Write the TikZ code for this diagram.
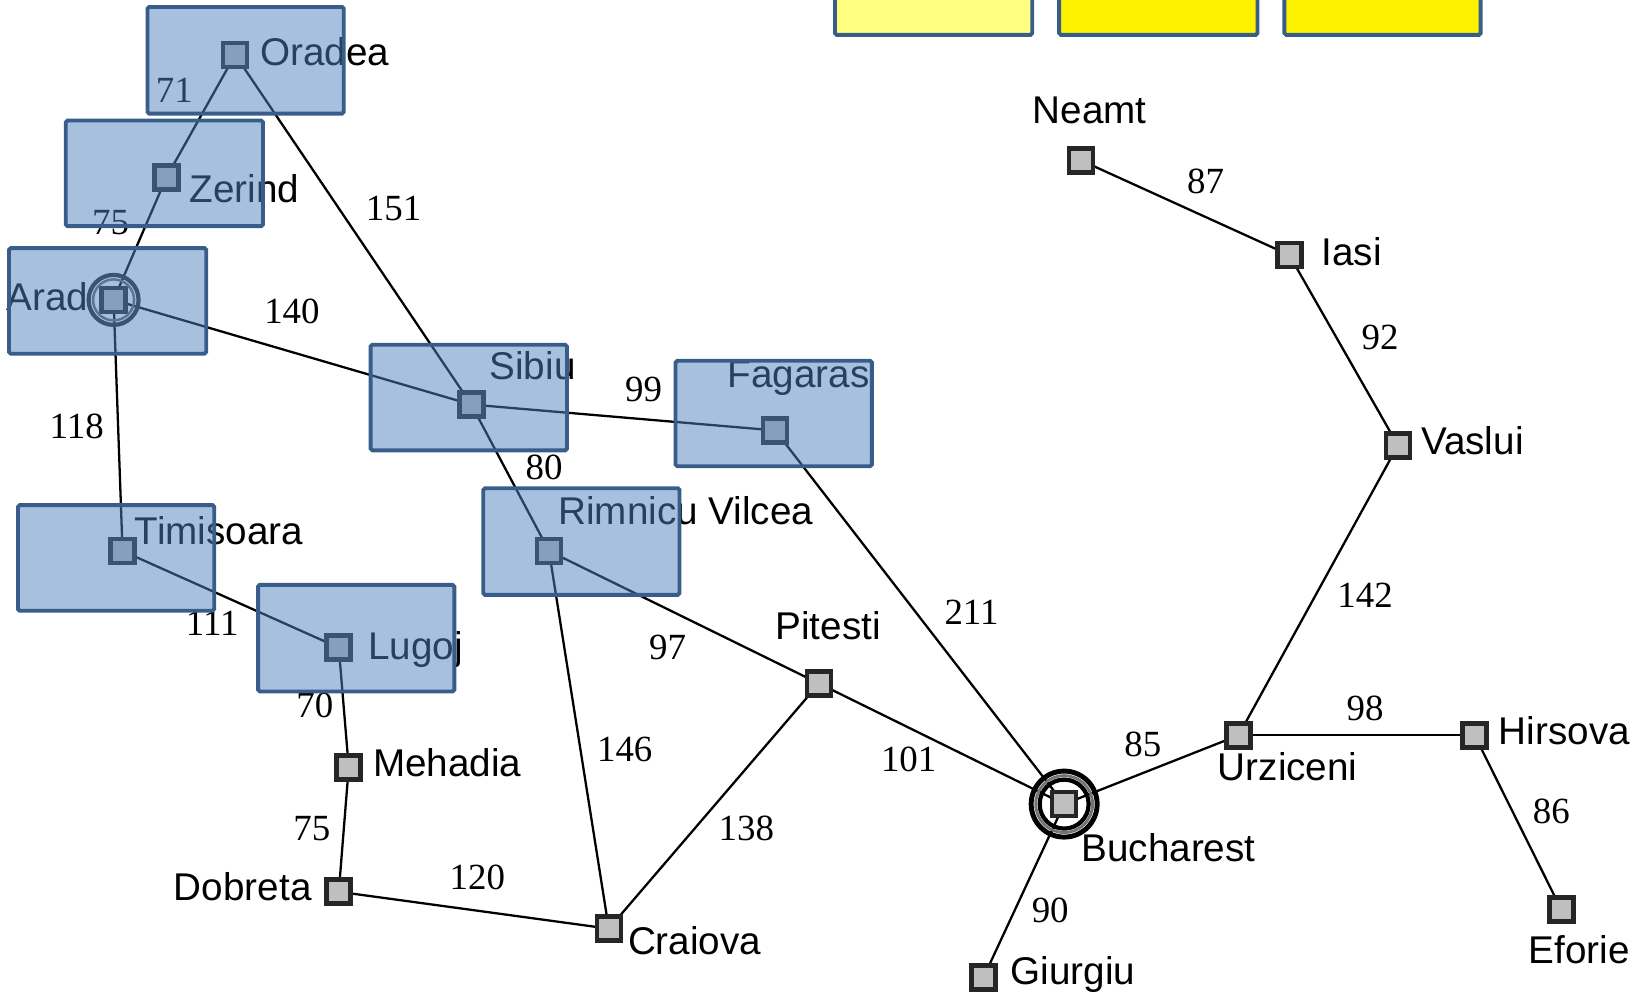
\documentclass[tikz,border=0pt]{standalone}
\usepackage{fontspec}
\setmainfont{Liberation Sans}
\newfontfamily\numfont{Liberation Serif}
\usetikzlibrary{backgrounds}
\definecolor{boxfill}{HTML}{4F81BD}
\definecolor{boxline}{HTML}{385D8A}
\definecolor{cityfill}{HTML}{BFBFBF}
\definecolor{cityline}{HTML}{262626}
\definecolor{paleyellow}{HTML}{FFFF80}
\begin{document}
\begin{tikzpicture}[x=0.01993cm,y=-0.01993cm,
	city/.style={draw=cityline,fill=cityfill,line width=2.6pt,minimum size=0.48cm,inner sep=0pt},
	town/.style={font=\fontsize{22}{26}\selectfont,inner sep=0pt},
	km/.style={font=\numfont\fontsize{21}{25}\selectfont,inner sep=0pt},
	road/.style={line width=1.3pt},
	expanded/.style={draw=boxline,fill=boxfill,fill opacity=0.5,line width=2.2pt,rounded corners=1pt},
	queue/.style={draw=boxline,line width=2.2pt,rounded corners=1pt}]
	\useasboundingbox (0,0) rectangle (32.88cm,-19.86cm);
	%cities
	\node[city] (Or) at (236,55) {};\node[city] (Ze) at (167,178) {};\node[city] (Ar) at (114,301) {};
	\node[city] (Si) at (473,406) {};\node[city] (Fa) at (778,432) {};\node[city] (Ti) at (123,553) {};
	\node[city] (Ri) at (551,553) {};\node[city] (Lu) at (340,650) {};\node[city] (Me) at (350,770) {};
	\node[city] (Do) at (340,895) {};\node[city] (Cr) at (611,932) {};\node[city] (Pi) at (822,686) {};
	\node[city] (Bu) at (1068,807) {};\node[city] (Gi) at (987,981) {};\node[city] (Ur) at (1243,738) {};
	\node[city] (Hi) at (1480,738) {};\node[city] (Ef) at (1567,913) {};\node[city] (Va) at (1403,447) {};
	\node[city] (Ia) at (1294,256) {};\node[city] (Ne) at (1085,161) {};
	%roads
	\begin{scope}[on background layer]
		\draw[road] (Or.center)--(Ze.center);
		\draw[road] (Ze.center)--(Ar.center);
		\draw[road] (Or.center)--(Si.center);
		\draw[road] (Ar.center)--(Si.center);
		\draw[road] (Ar.center)--(Ti.center);
		\draw[road] (Si.center)--(Fa.center);
		\draw[road] (Si.center)--(Ri.center);
		\draw[road] (Ti.center)--(Lu.center);
		\draw[road] (Lu.center)--(Me.center);
		\draw[road] (Me.center)--(Do.center);
		\draw[road] (Do.center)--(Cr.center);
		\draw[road] (Ri.center)--(Cr.center);
		\draw[road] (Ri.center)--(Pi.center);
		\draw[road] (Cr.center)--(Pi.center);
		\draw[road] (Pi.center)--(Bu.center);
		\draw[road] (Fa.center)--(Bu.center);
		\draw[road] (Bu.center)--(Ur.center);
		\draw[road] (Bu.center)--(Gi.center);
		\draw[road] (Ur.center)--(Hi.center);
		\draw[road] (Hi.center)--(Ef.center);
		\draw[road] (Ur.center)--(Va.center);
		\draw[road] (Va.center)--(Ia.center);
		\draw[road] (Ia.center)--(Ne.center);
	\end{scope}
	%start and goal
	\draw[cityline,line width=2.4pt] (Ar) circle (0.5cm);
	\draw[cityline!70,line width=1.4pt] (Ar) circle (0.41cm);
	\draw[black,line width=2.8pt] (Bu) circle (0.66cm);
	\draw[black!55,line width=1.6pt] (Bu) circle (0.57cm);
	\draw[black,line width=2.4pt] (Bu) circle (0.49cm);
	%names
	\node[town,anchor=base west] (nOr) at (261,66) {Oradea};
	\node[town,anchor=base west] (nZe) at (190,203) {Zerind};
	\node[town,anchor=base east] (nAr) at (89,312) {Arad};
	\node[town,anchor=base west] (nSi) at (491,381) {Sibiu};
	\node[town,anchor=base west] (nFa) at (730,389) {Fagaras};
	\node[town,anchor=base west] (nTi) at (135,546) {Timisoara};
	\node[town,anchor=base west] (nRi) at (560,526) {Rimnicu Vilcea};
	\node[town,anchor=base west] (nLu) at (369,662) {Lugoj};
	\node[town,anchor=base west] (nMe) at (374,779) {Mehadia};
	\node[town,anchor=base east] (nDo) at (313,904) {Dobreta};
	\node[town,anchor=base west] (nCr) at (630,958) {Craiova};
	\node[town,anchor=base west] (nPi) at (778,642) {Pitesti};
	\node[town,anchor=base west] (nBu) at (1085,865) {Bucharest};
	\node[town,anchor=base west] (nGi) at (1014,988) {Giurgiu};
	\node[town,anchor=base west] (nUr) at (1222,783) {Urziceni};
	\node[town,anchor=base west] (nHi) at (1504,747) {Hirsova};
	\node[town,anchor=base west] (nEf) at (1534,967) {Eforie};
	\node[town,anchor=base west] (nVa) at (1426,456) {Vaslui};
	\node[town,anchor=base west] (nIa) at (1326,266) {Iasi};
	\node[town,anchor=base west] (nNe) at (1036,124) {Neamt};
	%distances
	\node[km] (kOrZe) at (175,91) {71};
	\node[km] (kZeAr) at (111,223) {75};
	\node[km] (kOrSi) at (395,209) {151};
	\node[km] (kArSi) at (293,313) {140};
	\node[km] (kArTi) at (77,428) {118};
	\node[km] (kSiFa) at (646,391) {99};
	\node[km] (kSiRi) at (546,469) {80};
	\node[km] (kTiLu) at (213,626) {111};
	\node[km] (kLuMe) at (316,708) {70};
	\node[km] (kMeDo) at (313,832) {75};
	\node[km] (kDoCr) at (479,881) {120};
	\node[km] (kRiCr) at (627,752) {146};
	\node[km] (kRiPi) at (670,650) {97};
	\node[km] (kCrPi) at (749,831) {138};
	\node[km] (kPiBu) at (912,762) {101};
	\node[km] (kFaBu) at (975,614) {211};
	\node[km] (kBuUr) at (1147,747) {85};
	\node[km] (kUrHi) at (1370,711) {98};
	\node[km] (kBuGi) at (1054,914) {90};
	\node[km] (kHiEf) at (1557,814) {86};
	\node[km] (kUrVa) at (1370,597) {142};
	\node[km] (kVaIa) at (1385,339) {92};
	\node[km] (kIaNe) at (1210,182) {87};
	%expanded
	\draw[expanded] (148,7) rectangle (345,114);
	\draw[expanded] (66,121) rectangle (264,227);
	\draw[expanded] (9,249) rectangle (207,355);
	\draw[expanded] (372,346) rectangle (569,452);
	\draw[expanded] (678,362) rectangle (875,468);
	\draw[expanded] (18,507) rectangle (215,613);
	\draw[expanded] (485,490) rectangle (682,597);
	\draw[expanded] (259,587) rectangle (456,694);
	%queue
	\draw[queue,fill=paleyellow] (838,-60) rectangle (1036,35);
	\draw[queue,fill=yellow] (1063,-60) rectangle (1262,35);
	\draw[queue,fill=yellow] (1289,-60) rectangle (1486,35);
\end{tikzpicture}
\end{document}
